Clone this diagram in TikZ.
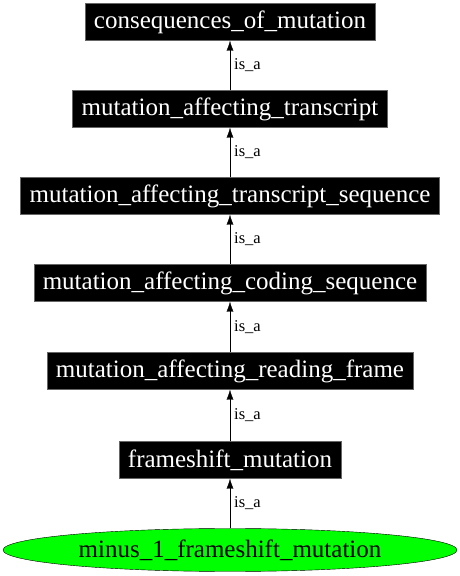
\documentclass[tikz,border=0pt]{standalone}
\usepackage{fontspec}
\setmainfont{Liberation Serif}
\usetikzlibrary{arrows.meta,shapes.geometric}
\begin{document}
\begin{tikzpicture}
        [x=1pt, y=1pt,
        term/.style={rectangle, fill=black, draw=black!60, text=white, font=\fontsize{25}{28}\selectfont, inner xsep=9pt, inner ysep=0pt, minimum height=37pt},
        leaf/.style={ellipse, fill=green, draw=black, font=\fontsize{25}{28}\selectfont, minimum width=454pt, minimum height=43pt, inner sep=0pt},
        edge/.style={-{Latex[length=10pt, width=7pt]}, black, thin},
        rel/.style={font=\fontsize{16.5}{19}\selectfont, right, inner xsep=4pt}]

        \useasboundingbox (0,0) rectangle (460,576);

        \node[term] (com) at (230,554) {consequences\_of\_mutation};
        \node[term] (mat) at (230,467) {mutation\_affecting\_transcript};
        \node[term] (mats) at (230,380) {mutation\_affecting\_transcript\_sequence};
        \node[term] (macs) at (230,293) {mutation\_affecting\_coding\_sequence};
        \node[term] (marf) at (230,205) {mutation\_affecting\_reading\_frame};
        \node[term] (fm) at (230,116) {frameshift\_mutation};
        \node[leaf] (m1fm) at (230,26) {minus\_1\_frameshift\_mutation};

        % is_a edges
        \draw[edge] (mat) -- (com) node[rel, midway] {is\_a};
        \draw[edge] (mats) -- (mat) node[rel, midway] {is\_a};
        \draw[edge] (macs) -- (mats) node[rel, midway] {is\_a};
        \draw[edge] (marf) -- (macs) node[rel, midway] {is\_a};
        \draw[edge] (fm) -- (marf) node[rel, midway] {is\_a};
        \draw[edge] (m1fm) -- (fm) node[rel, midway] {is\_a};

    \end{tikzpicture}
\end{document}
